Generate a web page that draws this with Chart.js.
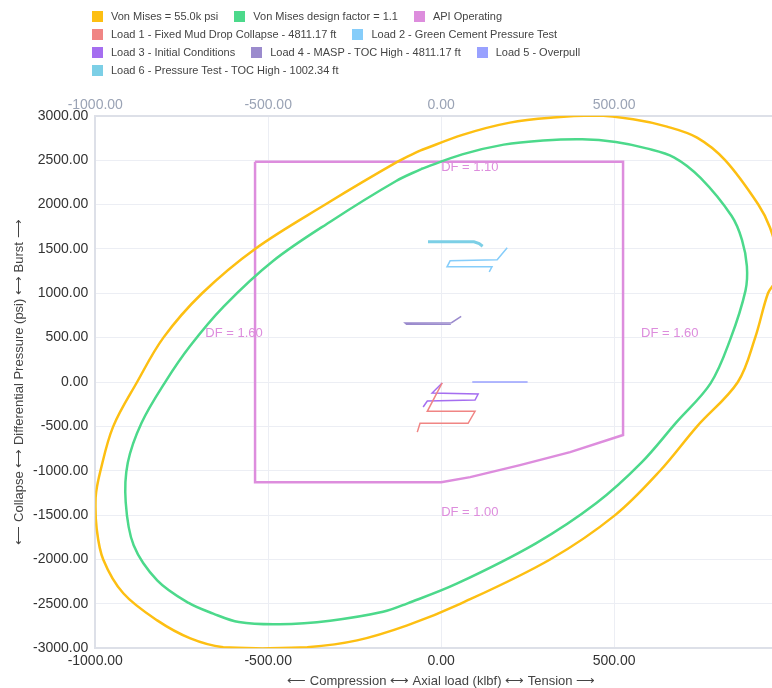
<!DOCTYPE html>
<html>
<head>
<meta charset="utf-8">
<script src="https://cdn.jsdelivr.net/npm/chart.js@4.4.1/dist/chart.umd.min.js"></script>
<style>
  html, body { margin: 0; padding: 0; background: #fff; overflow: hidden; }
  #wrap { position: relative; width: 787px; height: 688px; }
  #legend {
    position: absolute; top: 7px; left: 92px; width: 600px;
    display: flex; flex-wrap: wrap; column-gap: 16px;
    font: 11px "Liberation Sans", Arial, sans-serif;
    color: #444; line-height: 18px;
  }
  #legend .item { display: flex; align-items: center; white-space: nowrap; }
  #legend .box { width: 11px; height: 11px; margin-right: 8px; }
</style>
</head>
<body>
<div id="wrap">
  <canvas id="chart"></canvas>
  <div id="legend"></div>
</div>
<script>
// Von Mises ellipse (55.0k psi)
const vmAxial    = [-61, 64, 199, 324, 445, 555, 653, 740, 821, 917, 951, 972, 968, 945, 908, 858, 740, 633, 503, 315, 55, -98, -243, -387, -517, -630, -725, -821, -919, -977, -996, -999, -985, -948, -879, -803, -691, -538, -335, -127, -61];
const vmPressure = [2607, 2788, 2923, 2980, 3002, 2960, 2878, 2754, 2500, 2000, 1738, 1420, 1150, 1000, 500, 0, -500, -1000, -1500, -2000, -2500, -2743, -2912, -2990, -3002, -2990, -2889, -2686, -2381, -2000, -1650, -1300, -1000, -500, 0, 500, 1000, 1500, 2000, 2480, 2607];

// Von Mises design factor 1.1
const dfAxial    = [-58, 61, 181, 295, 408, 505, 594, 673, 750, 840, 870, 884, 880, 836, 779, 680, 579, 449, 274, 45, -97, -168, -321, -468, -585, -659, -730, -821, -889, -912, -906, -866, -796, -727, -629, -486, -316, -130, -58];
const dfPressure = [2400, 2565, 2675, 2722, 2736, 2705, 2633, 2532, 2300, 1870, 1600, 1305, 1030, 480, -15, -455, -909, -1364, -1818, -2273, -2494, -2590, -2690, -2730, -2705, -2610, -2490, -2235, -1840, -1355, -911, -460, 10, 400, 850, 1364, 1818, 2265, 2400];

// API operating envelope
const apiAxial    = [-538, 526, 526, 373, 228, 84, 0, -538, -538];
const apiPressure = [2483, 2483, -598, -790, -937, -1072, -1129, -1129, 2483];

// load cases
const load1Axial = [3, -40, 98, 78, -61, -69];
const load1Press = [-10, -330, -330, -465, -465, -565];
const load2Axial = [191, 162, 26, 17, 147, 139];
const load2Press = [1512, 1377, 1366, 1298, 1298, 1242];
const load3Axial = [3, -26, 107, 98, -40, -52];
const load3Press = [-11, -124, -135, -203, -214, -282];
const load4Axial = [58, 30, -104, -100, 28];
const load4Press = [740, 668, 665, 652, 652];
const load5Axial = [90, 250];
const load5Press = [0, 0];
const load6Axial = [-38, 95, 110, 120];
const load6Press = [1580, 1580, 1560, 1530];

const seriesNames = [
  'Von Mises = 55.0k psi',
  'Von Mises design factor = 1.1',
  'API Operating',
  'Load 1 - Fixed Mud Drop Collapse - 4811.17 ft',
  'Load 2 - Green Cement Pressure Test',
  'Load 3 - Initial Conditions',
  'Load 4 - MASP - TOC High - 4811.17 ft',
  'Load 5 - Overpull',
  'Load 6 - Pressure Test - TOC High - 1002.34 ft'
];
const seriesColors = ['#fdbf12', '#4cd98b', '#dd8ddd', '#f08584', '#86cdfa', '#a56ef0', '#9b8bcd', '#99a1ff', '#7ccfe6'];

// design factor labels
const dfLabels = ['DF = 1.10', 'DF = 1.60', 'DF = 1.60', 'DF = 1.00'];
const dfLabelX = [0, -682, 578, 0];
const dfLabelY = [2415, 553, 553, -1467];

function pts(xs, ys) {
  return xs.map((x, i) => ({x: x, y: ys[i]}));
}

const seriesData = [
  pts(vmAxial, vmPressure),
  pts(dfAxial, dfPressure),
  pts(apiAxial, apiPressure),
  pts(load1Axial, load1Press),
  pts(load2Axial, load2Press),
  pts(load3Axial, load3Press),
  pts(load4Axial, load4Press),
  pts(load5Axial, load5Press),
  pts(load6Axial, load6Press)
];

const datasets = seriesData.map((d, i) => ({
  label: seriesNames[i],
  data: d,
  showLine: true,
  borderColor: seriesColors[i],
  backgroundColor: seriesColors[i],
  borderWidth: i < 3 ? 2.5 : (i === 8 ? 3 : 1.5),
  pointRadius: 0,
  tension: i < 2 ? 0.35 : 0,
  fill: false
}));

// DF text on the envelope
const dfLabelPlugin = {
  id: 'dfLabels',
  afterDatasetsDraw(chart) {
    const {ctx, scales: {x, y}} = chart;
    ctx.save();
    ctx.font = '13px "Liberation Sans", Arial, sans-serif';
    ctx.fillStyle = '#dd8ddd';
    ctx.textAlign = 'left';
    ctx.textBaseline = 'middle';
    dfLabels.forEach((t, i) => {
      ctx.fillText(t, x.getPixelForValue(dfLabelX[i]), y.getPixelForValue(dfLabelY[i]));
    });
    ctx.restore();
  }
};

// the 1000 tick sits on the cut-off right edge, no label there
const fmt = v => Number(v).toFixed(2);
const fmtX = v => (v >= 1000 ? null : fmt(v));
const tickFont = {family: '"Liberation Sans", Arial, sans-serif', size: 14};
const titleFont = {family: '"Liberation Sans", Arial, sans-serif', size: 13, lineHeight: 1};

const chart = new Chart(document.getElementById('chart'), {
  type: 'scatter',
  data: {datasets},
  plugins: [dfLabelPlugin],
  options: {
    responsive: true,
    maintainAspectRatio: false,
    animation: false,
    layout: {padding: {left: 13, right: 0, top: 95, bottom: 0}},
    plugins: {
      legend: {display: false},
      tooltip: {enabled: false}
    },
    scales: {
      x: {
        type: 'linear', position: 'bottom', min: -1000, max: 1000,
        ticks: {stepSize: 500, callback: fmtX, color: '#333', font: tickFont, maxRotation: 0, padding: 5},
        grid: {color: '#eceef4', drawTicks: false},
        border: {color: '#dde0e8', width: 2},
        title: {display: true, text: '⟵ Compression ⟷ Axial load (klbf) ⟷ Tension ⟶', color: '#444', font: titleFont, padding: {top: 0, bottom: 0}}
      },
      x2: {
        type: 'linear', position: 'top', min: -1000, max: 1000,
        ticks: {stepSize: 500, callback: fmtX, color: '#9aa3b5', font: tickFont, maxRotation: 0, padding: 2},
        grid: {display: false, drawTicks: false},
        border: {color: '#dde0e8', width: 2}
      },
      y: {
        type: 'linear', min: -3000, max: 3000,
        ticks: {stepSize: 500, callback: fmt, color: '#333', font: tickFont, padding: 7},
        grid: {color: '#eceef4', drawTicks: false},
        border: {color: '#dde0e8', width: 2},
        title: {display: true, text: '⟵ Collapse ⟷ Differential Pressure (psi) ⟷ Burst ⟶', color: '#444', font: titleFont, padding: {top: 0, bottom: 0}}
      }
    }
  }
});

// html legend built from the datasets
const legendEl = document.getElementById('legend');
chart.data.datasets.forEach(ds => {
  const item = document.createElement('div');
  item.className = 'item';
  item.innerHTML = `<span class="box" style="background:${ds.borderColor}"></span><span>${ds.label}</span>`;
  legendEl.appendChild(item);
});
</script>
</body>
</html>
